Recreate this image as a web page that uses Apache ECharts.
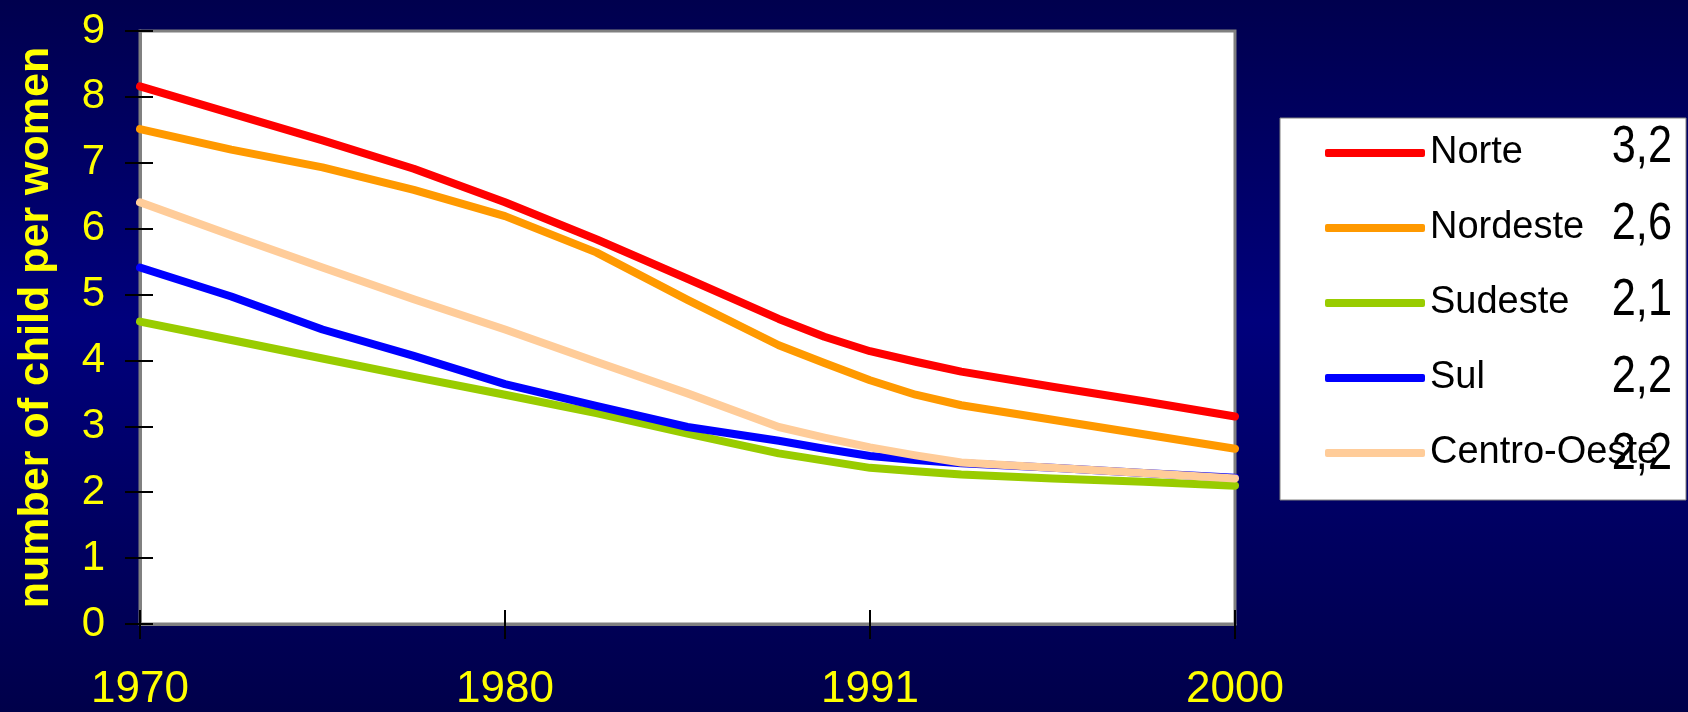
<!DOCTYPE html>
<html>
<head>
<meta charset="utf-8">
<script src="https://cdn.jsdelivr.net/npm/echarts@6/dist/echarts.min.js"></script>
<style>
  html, body { margin: 0; padding: 0; background: #000066; }
  #chart { width: 1688px; height: 712px; }
</style>
</head>
<body>
<div id="chart"></div>
<script>
// ---- data ----
const yearLabels = ['1970', '1980', '1991', '2000'];
// positions along the (evenly spaced) year axis: 0 = 1970, 1 = 1980, 2 = 1991, 3 = 2000
const xSteps = [0, 0.25, 0.5, 0.75, 1, 1.25, 1.5, 1.75, 1.875, 2, 2.125, 2.25, 2.5, 2.75, 3];
const regionNames = ['Norte', 'Nordeste', 'Sudeste', 'Sul', 'Centro-Oeste'];
const norte       = [8.16, 7.75, 7.34, 6.91, 6.40, 5.84, 5.24, 4.63, 4.36, 4.14, 3.98, 3.83, 3.60, 3.38, 3.15];
const nordeste    = [7.51, 7.20, 6.93, 6.59, 6.19, 5.64, 4.92, 4.23, 3.96, 3.70, 3.48, 3.32, 3.10, 2.88, 2.66];
const sudeste     = [4.59, 4.31, 4.03, 3.75, 3.48, 3.20, 2.89, 2.59, 2.48, 2.37, 2.32, 2.27, 2.21, 2.16, 2.10];
const sul         = [5.41, 4.97, 4.47, 4.07, 3.64, 3.31, 2.99, 2.78, 2.66, 2.55, 2.49, 2.44, 2.37, 2.29, 2.22];
const centroOeste = [6.40, 5.90, 5.41, 4.93, 4.47, 3.98, 3.50, 2.99, 2.83, 2.68, 2.56, 2.45, 2.37, 2.29, 2.21];
const endValues   = [3.2, 2.6, 2.1, 2.2, 2.2];
const yTicks = [0, 1, 2, 3, 4, 5, 6, 7, 8, 9];

// ---- styling ----
const seriesValues = [norte, nordeste, sudeste, sul, centroOeste];
const colors = ['#FF0000', '#FF9900', '#99CC00', '#0000FF', '#FFCC99'];
const yellow = '#FFFF00';

const chart = echarts.init(document.getElementById('chart'), null, { renderer: 'canvas' });

const series = regionNames.map((name, i) => ({
  name: name,
  type: 'line',
  xAxisIndex: 0,
  yAxisIndex: 0,
  data: xSteps.map((x, k) => [x, seriesValues[i][k]]),
  showSymbol: false,
  symbol: 'none',
  smooth: false,
  lineStyle: { color: colors[i], width: 8, cap: 'round', join: 'round' },
  itemStyle: { color: colors[i] },
  z: 3 + i
}));

const rowY = [148, 225, 301, 378, 455];
const valueTexts = endValues.map((v, i) => ({
  type: 'text',
  x: 1672,
  y: rowY[i],
  scaleX: 0.85,
  z: 20,
  style: {
    text: v.toFixed(1).replace('.', ','),
    fill: '#000000',
    font: '51px "Liberation Sans", Arial, sans-serif',
    textAlign: 'right',
    textVerticalAlign: 'middle'
  }
}));

const yMin = yTicks[0], yMax = yTicks[yTicks.length - 1];

const option = {
  animation: false,
  backgroundColor: {
    type: 'linear', x: 0, y: 0, x2: 0, y2: 1,
    colorStops: [
      { offset: 0, color: '#00004E' },
      { offset: 0.45, color: '#00007C' },
      { offset: 1, color: '#00004A' }
    ]
  },
  grid: {
    left: 140, right: 453, top: 31, bottom: 88,
    show: true,
    backgroundColor: '#FFFFFF',
    borderColor: '#808080',
    borderWidth: 3
  },
  xAxis: [{
    type: 'value',
    min: 0, max: yearLabels.length - 1, interval: 1,
    position: 'bottom',
    axisLine: { show: true, lineStyle: { color: '#808080', width: 3 } },
    axisTick: { show: true, inside: false, length: 15, lineStyle: { color: '#000000', width: 2 } },
    axisLabel: {
      margin: 44,
      color: yellow,
      fontSize: 44,
      fontFamily: '"Liberation Sans", Arial, sans-serif',
      formatter: (v) => yearLabels[Math.round(v)] || ''
    },
    splitLine: { show: false }
  }, {
    type: 'value',
    min: 0, max: yearLabels.length - 1, interval: 1,
    position: 'bottom', offset: 0,
    axisLine: { show: false },
    axisTick: { show: true, inside: true, length: 14, lineStyle: { color: '#000000', width: 2 } },
    axisLabel: { show: false },
    splitLine: { show: false }
  }],
  yAxis: [{
    type: 'value',
    min: yMin, max: yMax, interval: 1,
    position: 'left',
    name: 'number of child per women',
    nameLocation: 'middle',
    nameGap: 82,
    nameRotate: 90,
    nameTextStyle: {
      color: yellow,
      fontSize: 43,
      fontWeight: 'bold',
      fontFamily: '"Liberation Sans", Arial, sans-serif'
    },
    axisLine: { show: true, lineStyle: { color: '#808080', width: 3 } },
    axisTick: { show: true, inside: false, length: 15, lineStyle: { color: '#000000', width: 2 } },
    axisLabel: {
      margin: 35,
      color: yellow,
      fontSize: 42,
      fontFamily: '"Liberation Sans", Arial, sans-serif'
    },
    splitLine: { show: false }
  }, {
    type: 'value',
    min: yMin, max: yMax, interval: 1,
    position: 'left', offset: 0,
    axisLine: { show: false },
    axisTick: { show: true, inside: true, length: 13, lineStyle: { color: '#000000', width: 2 } },
    axisLabel: { show: false },
    splitLine: { show: false }
  }],
  legend: {
    orient: 'vertical',
    left: 1325,
    top: 133,
    padding: 0,
    itemGap: 35,
    itemWidth: 100,
    itemHeight: 8,
    icon: 'roundRect',
    z: 10,
    data: regionNames,
    textStyle: {
      color: '#000000',
      fontSize: 38,
      lineHeight: 40,
      fontFamily: '"Liberation Sans", Arial, sans-serif'
    }
  },
  graphic: [{
    type: 'rect',
    z: 1,
    shape: { x: 1280, y: 118, width: 406, height: 382 },
    style: { fill: '#FFFFFF', stroke: '#808080', lineWidth: 1 }
  }].concat(valueTexts),
  series: series
};

chart.setOption(option);
</script>
</body>
</html>
